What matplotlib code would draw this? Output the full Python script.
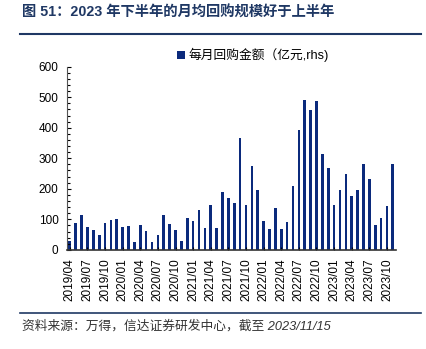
import matplotlib.pyplot as plt
from matplotlib.ticker import MultipleLocator
from matplotlib.lines import Line2D

plt.rcParams['font.family'] = ['Liberation Sans', 'Noto Sans CJK SC', 'DejaVu Sans']

# monthly buyback amount, 2019/04 - 2023/11 (亿元)
months = []
y, m = 2019, 4
while (y, m) <= (2023, 11):
    months.append(f"{y}/{m:02d}")
    m += 1
    if m > 12:
        y, m = y + 1, 1

buyback = [28, 88, 114, 75, 64, 49, 87, 99, 102, 76, 79, 27,
           80, 63, 26, 49, 113, 86, 66, 30, 104, 96, 129, 72,
           148, 72, 188, 170, 153, 368, 148, 274, 196, 96, 70, 136,
           68, 90, 208, 392, 491, 457, 486, 315, 268, 147, 197, 250,
           176, 196, 282, 232, 83, 104, 145, 280]

title = "图 51：2023 年下半年的月均回购规模好于上半年"
source = "资料来源：万得，信达证券研发中心，截至 2023/11/15"
legend_label = "每月回购金额（亿元,rhs)"

navy = "#0b2a7c"
dark = "#1f3864"

fig = plt.figure(figsize=(4.26, 3.49), dpi=100)
ax = fig.add_axes([0.157, 0.284, 0.772, 0.525])

x = list(range(len(buyback)))
ax.bar(x, buyback, width=0.45, color=navy, label=legend_label)

ax.set_xlim(-0.5, len(buyback) - 0.5)
ax.set_ylim(0, 600)
ax.yaxis.set_major_locator(MultipleLocator(100))
ax.yaxis.set_minor_locator(MultipleLocator(20))
ax.tick_params(axis='y', which='both', direction='in', length=3, width=0.8,
               labelsize=8.5, pad=6)
ax.tick_params(axis='y', which='minor', length=2)

ax.set_xticks(x[::3])
ax.set_xticklabels(months[::3], rotation=90, fontsize=8.5)
ax.tick_params(axis='x', direction='in', length=2, pad=6)

for s in ['top', 'right']:
    ax.spines[s].set_visible(False)
ax.spines['left'].set_color('#555555')
ax.spines['bottom'].set_color('#333333')
ax.spines['bottom'].set_linewidth(1.2)

ax.legend(loc='upper left', bbox_to_anchor=(0.30, 1.165), frameon=False,
          fontsize=9.2, handlelength=0.6, handleheight=0.6, handletextpad=0.3)

fig.text(0.052, 0.963, title, fontsize=10.3, fontweight='bold', color=dark,
         va='center', ha='left')
fig.add_artist(Line2D([0.047, 0.988], [0.903, 0.903], color=dark, lw=1.5))
fig.add_artist(Line2D([0.047, 0.988], [0.103, 0.103], color=dark, lw=1.2))
fig.text(0.052, 0.066, source, fontsize=9.2, color='#333333', va='center',
         ha='left', style='italic')

plt.savefig("out.png", dpi=100)
